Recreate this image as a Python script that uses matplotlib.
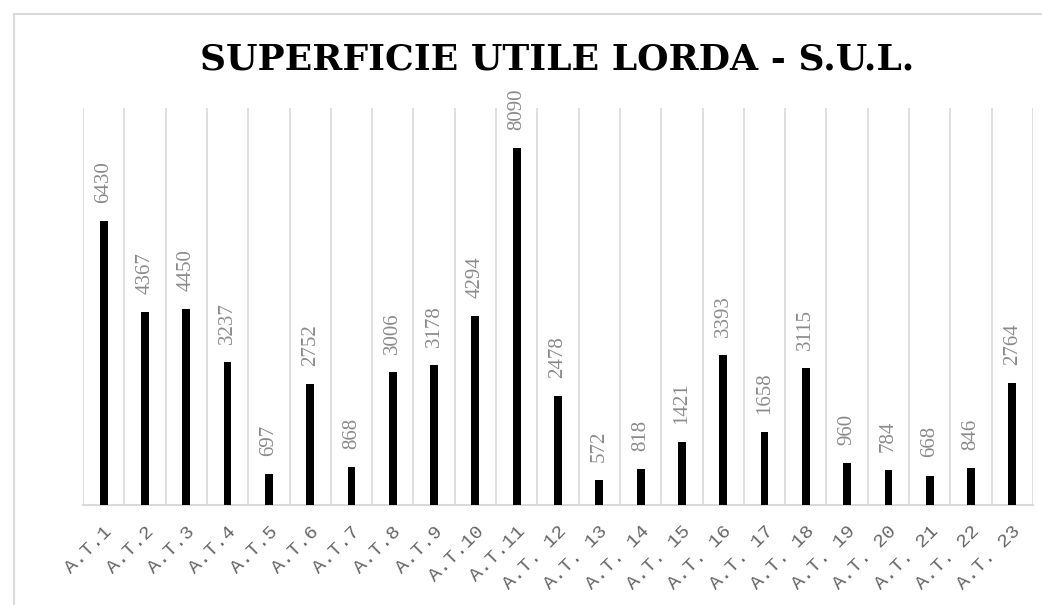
import matplotlib
matplotlib.use('agg')
import matplotlib.pyplot as plt
from matplotlib.patches import Rectangle

categories = ['A.T.1', 'A.T.2', 'A.T.3', 'A.T.4', 'A.T.5', 'A.T.6', 'A.T.7',
              'A.T.8', 'A.T.9', 'A.T.10', 'A.T.11', 'A.T. 12', 'A.T. 13',
              'A.T. 14', 'A.T. 15', 'A.T. 16', 'A.T. 17', 'A.T. 18', 'A.T. 19',
              'A.T. 20', 'A.T. 21', 'A.T. 22', 'A.T. 23']
sul_values = [6430, 4367, 4450, 3237, 697, 2752, 868, 3006, 3178, 4294, 8090,
              2478, 572, 818, 1421, 3393, 1658, 3115, 960, 784, 668, 846, 2764]

grid_grey = '#d9d9d9'
text_grey = '#8a8a8a'

fig = plt.figure(figsize=(10.42, 6.05), dpi=100)
fig.patch.set_facecolor('white')

# light chart-area border
fig.patches.append(Rectangle((14 / 1042, -0.1), 1.1, 1 - 14 / 605 + 0.1,
                             transform=fig.transFigure, fill=False,
                             edgecolor=grid_grey, linewidth=1.5))

ax = fig.add_axes([83 / 1042, 1 - 505 / 605, 950 / 1042, 397 / 605])

x = list(range(len(categories)))
ax.bar(x, sul_values, width=0.19, color='black', zorder=3)

ax.set_xlim(-0.5, len(categories) - 0.5)
ax.set_ylim(0, 9000)

# category separators
for b in range(len(categories) + 1):
    ax.axvline(b - 0.5, color=grid_grey, linewidth=1.2, zorder=1)

for spine in ['top', 'right', 'left']:
    ax.spines[spine].set_visible(False)
ax.spines['bottom'].set_color(grid_grey)
ax.spines['bottom'].set_linewidth(1.5)

ax.set_yticks([])
ax.set_xticks(x)
ax.set_xticklabels(categories, rotation=45, ha='right', va='top',
                   rotation_mode='anchor', family='Liberation Mono',
                   fontsize=14, color='#666666')
ax.tick_params(axis='x', length=0, pad=13)

for xi, v in zip(x, sul_values):
    ax.annotate(str(v), (xi, v), xytext=(0, 13), textcoords='offset points',
                rotation=90, ha='center', va='bottom', fontsize=15,
                family='Liberation Serif', color=text_grey)

fig.text(0.535, 1 - 60 / 605, 'SUPERFICIE UTILE LORDA - S.U.L.',
         ha='center', va='center', fontsize=26, fontweight='heavy',
         family='DejaVu Serif', color='black')

fig.savefig('out.png', dpi=100)
